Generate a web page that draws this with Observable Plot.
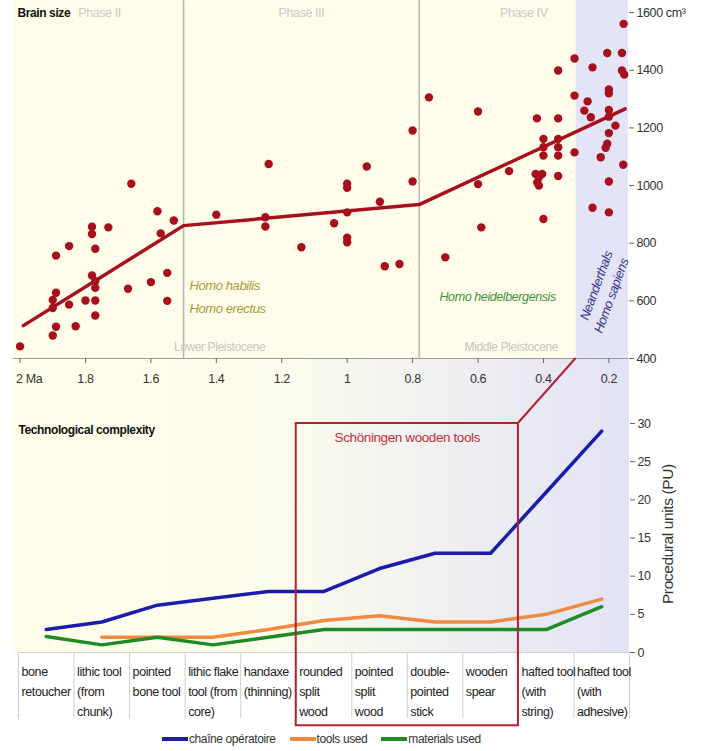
<!DOCTYPE html>
<html><head><meta charset="utf-8">
<script src="https://cdn.jsdelivr.net/npm/d3@7"></script>
<script src="https://cdn.jsdelivr.net/npm/@observablehq/plot@0.6"></script>
<style>
html,body{margin:0;padding:0;background:#fff;overflow:hidden;}
body{font-family:"Liberation Sans",Arial,sans-serif;}
#wrap{position:relative;width:703px;height:751px;overflow:hidden;}
#bg2{position:absolute;left:13px;top:358px;width:616px;height:294px;
  background:linear-gradient(to right,#fffde9 0%,#fcfcec 42%,#e2e2f6 100%);}
.layer{position:absolute;left:0;}
#legend{position:absolute;top:731px;left:162px;display:flex;align-items:center;font-size:12px;letter-spacing:-0.4px;color:#333;line-height:16px;}
#legend .sw{display:inline-block;width:26px;height:4px;margin-right:1px;}
#legend .item{display:flex;align-items:center;margin-right:14px;}
</style></head>
<body>
<div id="wrap"><div id="bg2"></div></div>
<script>
// ---------- Brain size data (Ma, cm³) ----------
const ages = [
  2.00,1.90,1.89,1.83,1.90,1.90,1.89,1.85,1.80,1.77,1.77,1.77,1.77,1.78,1.67,1.60,1.55,1.55,
  1.89,1.85,1.77,1.78,1.78,1.73,1.66,1.58,1.57,1.53,
  1.40,1.25,1.25,1.24,1.14,1.04,1.00,1.00,1.00,1.00,1.00,0.94,0.90,0.885,0.84,0.80,0.80,0.75,0.70,
  0.60,0.60,0.59,0.505,
  0.42,0.40,0.40,0.40,0.424,0.414,0.419,0.404,0.414,0.40,
  0.355,0.355,0.355,0.355,0.355,0.355,0.305,0.305,0.305,0.275,0.265,0.255,0.25,0.25,
  0.225,0.21,0.205,0.205,0.20,0.20,0.20,0.20,0.20,0.20,0.20,0.18,0.16,0.16,0.153,0.155,0.156
];
const volumes = [
  442,480,510,512,575,603,628,587,601,601,549,645,668,688,642,665,697,600,
  757,790,781,832,857,855,1006,911,834,879,
  899,890,858,1075,786,869,1006,992,907,819,803,1066,944,720,728,1014,1191,1306,751,
  1257,1005,855,1050,
  1233,1162,1133,1104,1040,1029,1011,1040,1000,884,
  1399,1233,1162,1133,1104,1033,1441,1312,1115,1260,1292,1237,1410,923,
  1098,1131,1145,1460,1333,1320,1262,1239,1182,1014,907,1208,1460,1399,1385,1561,1072
];
const trendAges = [1.99, 1.5, 0.78, 0.15];
const trendVolumes = [514, 861, 934, 1266];
const phaseDividers = [1.5, 0.78];
const recentStart = 0.3;
const phaseNames = ["Phase II", "Phase III", "Phase IV"];
const phaseLabelAges = [1.757, 1.14, 0.46];
const xTicks = [2, 1.8, 1.6, 1.4, 1.2, 1, 0.8, 0.6, 0.4, 0.2];
const xTickLabels = ["2 Ma", "1.8", "1.6", "1.4", "1.2", "1", "0.8", "0.6", "0.4", "0.2"];
const yTicks = [400, 600, 800, 1000, 1200, 1400, 1600];
const yTickLabels = ["400", "600", "800", "1000", "1200", "1400", "1600 cm³"];

// ---------- Technological complexity data ----------
const categories = [
  "bone\nretoucher", "lithic tool\n(from\nchunk)", "pointed\nbone tool", "lithic flake\ntool (from\ncore)",
  "handaxe\n(thinning)", "rounded\nsplit\nwood", "pointed\nsplit\nwood", "double-\npointed\nstick",
  "wooden\nspear", "hafted tool\n(with\nstring)", "hafted tool\n(with\nadhesive)"
];
const chaineOperatoire = [3, 4, 6.2, 7.1, 8, 8, 11, 13, 13, 21, 29];
const toolsUsed = [null, 2, 2, 2, 3, 4.2, 4.8, 4, 4, 5, 7];
const materialsUsed = [2.1, 1, 2, 1, 2, 3, 3, 3, 3, 3, 6];
const seriesNames = ["chaîne opératoire", "tools used", "materials used"];
const seriesColors = ["#1b1bac", "#f08a40", "#1f8b26"];
const puTicks = [0, 5, 10, 15, 20, 25, 30];
const schoeningenFirst = 5, schoeningenLast = 8;   // category indices inside the box

const FONT = '"Liberation Sans",Arial,sans-serif';
const RED = "#a80f1d";
const BOXRED = "#b3202e";
const YELLOW = "#fffde9";
const LAV = "#e4e4f7";
const baseStyle = {fontFamily: FONT, fontSize: "12px", letterSpacing: "-0.4px", background: "transparent", color: "#333", overflow: "visible"};

const wrap = document.getElementById("wrap");

// ---------- Top chart ----------
const xDomain = [2.02, 0.14];
const yDomain = [400, 1642];
const pts = ages.map((a, i) => ({age: a, vol: volumes[i]}));
const trend = trendAges.map((a, i) => ({age: a, vol: trendVolumes[i]}));

const topPlot = Plot.plot({
  width: 703, height: 390,
  marginLeft: 13, marginRight: 75, marginTop: 0, marginBottom: 32,
  x: {domain: xDomain, axis: null},
  y: {domain: yDomain, axis: null},
  style: baseStyle,
  marks: [
    Plot.frame({fill: YELLOW, stroke: null}),
    Plot.rect([recentStart], {x1: d => d, x2: xDomain[1], y1: yDomain[0], y2: yDomain[1], fill: LAV}),
    Plot.ruleX(phaseDividers, {stroke: "#b5b5b5", strokeWidth: 1.5}),
    Plot.ruleY([yDomain[0]], {stroke: "#9a9a9a", strokeWidth: 1}),
    Plot.axisX({ticks: xTicks, tickFormat: () => "", tickSize: 5, label: null, stroke: "#666"}),
    Plot.text(xTicks.slice(0, 1), {x: d => d, y: yDomain[0], text: () => xTickLabels[0], textAnchor: "start", dx: -4, dy: 20, fill: "#333", fontSize: 12.5}),
    Plot.text(xTicks.slice(1), {x: d => d, y: yDomain[0], text: (d, i) => xTickLabels[i + 1], dy: 20, fill: "#333", fontSize: 12.5}),
    Plot.axisY({anchor: "right", ticks: yTicks, tickFormat: d => yTickLabels[yTicks.indexOf(d)], tickSize: 5, tickPadding: 3, label: null, stroke: "#666", fill: "#333", fontSize: 12.5}),
    Plot.text(["Brain size"], {frameAnchor: "top-left", text: d => d, dx: 4, dy: 8, lineAnchor: "top", textAnchor: "start", fontWeight: "bold", fill: "#111", fontSize: 12}),
    Plot.text(phaseNames, {x: (d, i) => phaseLabelAges[i], frameAnchor: "top", text: d => d, dy: 8, lineAnchor: "top", fill: "#c9c9c9", fontSize: 12.5}),
    Plot.text(["Lower Pleistocene", "Middle Pleistocene"], {x: [1.39, 0.498], y: [441, 441], text: d => d, fill: "#c4c4c4", fontSize: 12}),
    Plot.text(["Homo habilis", "Homo erectus"], {x: [1.482, 1.482], y: [653, 573], text: d => d, textAnchor: "start", fill: "#a39b3c", fontStyle: "italic", fontSize: 13}),
    Plot.text(["Homo heidelbergensis"], {x: [0.54], y: [615], text: d => d, fill: "#3d933d", fontStyle: "italic", fontSize: 12.5}),
    Plot.text(["Neanderthals", "Homo sapiens"], {x: [0.238, 0.192], y: [653, 618], text: d => d, rotate: -70, fill: "#34348c", fontStyle: "italic", fontSize: 13}),
    Plot.line(trend, {x: "age", y: "vol", stroke: RED, strokeWidth: 3.5}),
    Plot.dot(pts, {x: "age", y: "vol", r: 4.2, fill: RED, stroke: null})
  ]
});
topPlot.classList.add("layer");

// ---------- Bottom chart ----------
const seriesValues = [chaineOperatoire, toolsUsed, materialsUsed];
const lineData = seriesNames.flatMap((name, s) =>
  seriesValues[s].map((v, i) => ({name, pos: i + 0.5, v})).filter(d => d.v != null));
const nCat = categories.length;

const bottomPlot = Plot.plot({
  width: 703, height: 377,
  marginLeft: 18, marginRight: 74, marginTop: 65, marginBottom: 83,
  x: {domain: [0, nCat], axis: null},
  y: {domain: [0, 30], axis: null},
  color: {domain: seriesNames, range: seriesColors},
  style: baseStyle,
  marks: [
    Plot.ruleX(d3.range(nCat + 1), {y1: 0, y2: -8.7, stroke: "#cfcfcf", strokeWidth: 1}),
    Plot.ruleY([0], {stroke: "#cfcfcf", strokeWidth: 1}),
    Plot.text(categories, {x: (d, i) => i, y: 0, text: d => d, textAnchor: "start", lineAnchor: "top", dx: 3, dy: 9, lineHeight: 1.6, fontSize: 12.5, fill: "#222"}),
    Plot.line(lineData, {x: "pos", y: "v", z: "name", stroke: "name", strokeWidth: 3.5, strokeLinejoin: "round"}),
    Plot.rect([0], {x1: schoeningenFirst, x2: schoeningenLast + 1, y1: -9.6, y2: 30, fill: "none", stroke: BOXRED, strokeWidth: 2}),
    Plot.text(["Schöningen wooden tools"], {x: (schoeningenFirst + schoeningenLast + 1) / 2, y: 30, text: d => d, dy: 14, fill: "#c0303a", fontSize: 13.5}),
    Plot.axisY({anchor: "right", ticks: puTicks, tickSize: 5, tickPadding: 3, label: null, stroke: "#666", fill: "#333", fontSize: 12.5}),
    Plot.text(["Procedural units (PU)"], {frameAnchor: "right", y: 15.5, text: d => d, rotate: -90, textAnchor: "middle", dx: 39, fill: "#333", fontSize: 15.5}),
    Plot.text(["Technological complexity"], {frameAnchor: "top-left", text: d => d, dx: 0, dy: 2, lineAnchor: "top", textAnchor: "start", fontWeight: "bold", fill: "#111", fontSize: 12})
  ]
});
bottomPlot.classList.add("layer");
bottomPlot.style.top = "358px";
topPlot.style.top = "0px";
wrap.appendChild(bottomPlot);
wrap.appendChild(topPlot);

// ---------- connector between the Schöningen box and 0.3 Ma ----------
function scaleFn(plot, name) {
  const s = plot.scale(name);
  if (s && typeof s.apply === "function") return v => s.apply(v);
  return d3.scaleLinear(s.domain, s.range);
}
const bx = scaleFn(bottomPlot, "x"), by = scaleFn(bottomPlot, "y");
const tx = scaleFn(topPlot, "x"), ty = scaleFn(topPlot, "y");
const overlay = d3.select(wrap).append("svg").attr("class", "layer")
  .attr("width", 703).attr("height", 751).style("top", "0px").style("pointer-events", "none");
overlay.append("line")
  .attr("x1", bx(schoeningenLast + 1)).attr("y1", by(30) + 358)
  .attr("x2", tx(recentStart)).attr("y2", ty(yDomain[0]))
  .attr("stroke", BOXRED).attr("stroke-width", 2);

// ---------- legend ----------
const legend = d3.select(wrap).append("div").attr("id", "legend");
seriesNames.forEach((name, i) => {
  const item = legend.append("div").attr("class", "item");
  item.append("span").attr("class", "sw").style("background", seriesColors[i]);
  item.append("span").text(name);
});
</script>
</body></html>
